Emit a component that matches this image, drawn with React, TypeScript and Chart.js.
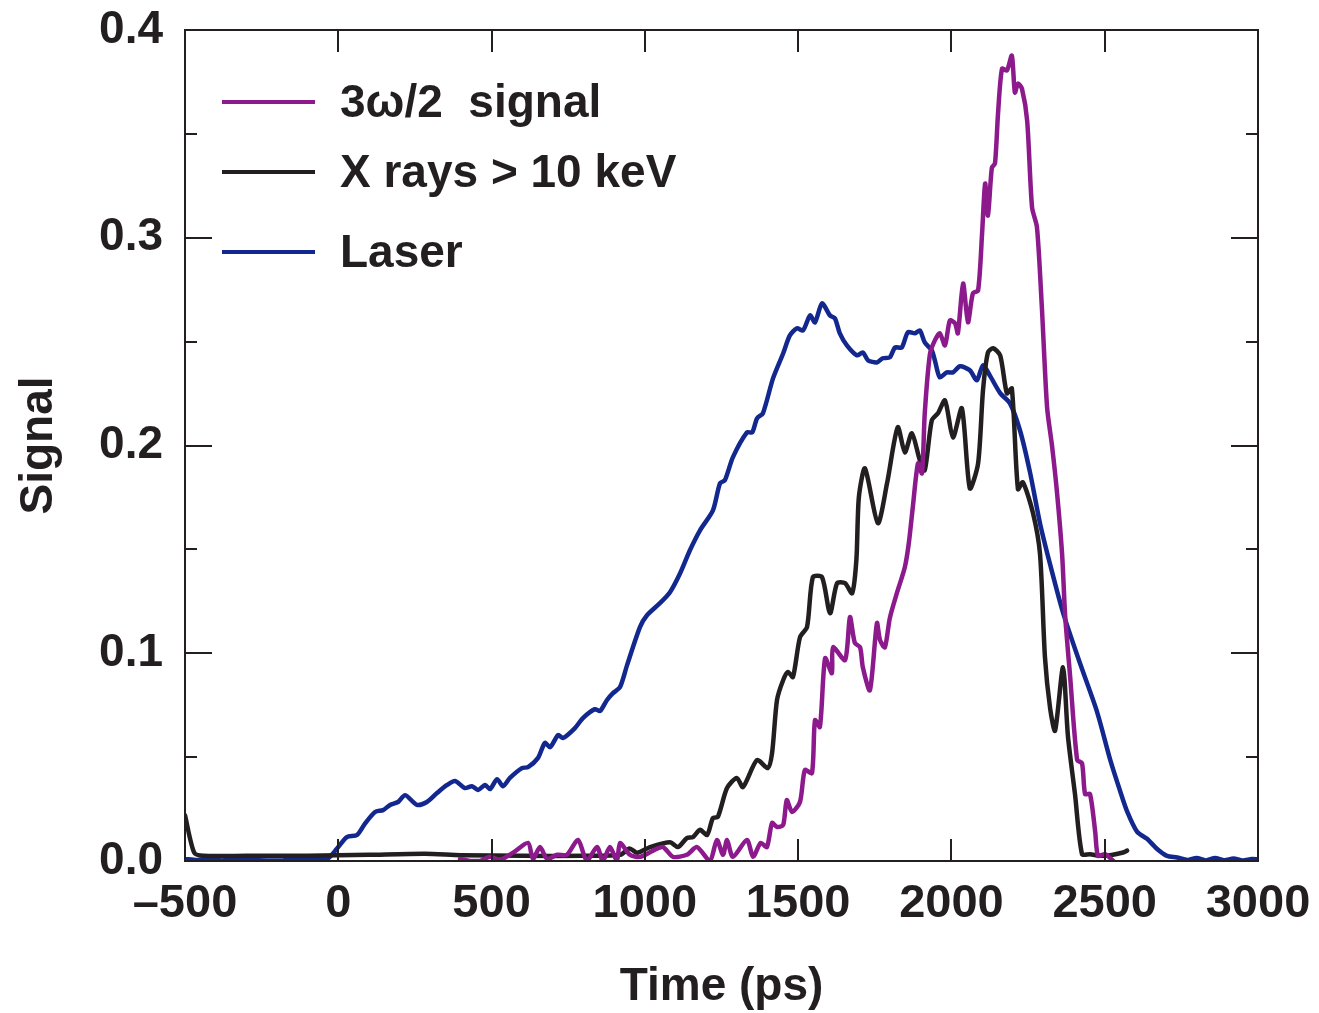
import React, { useEffect, useRef } from 'react';
import { Chart, registerables } from 'chart.js';

Chart.register(...registerables);

// ---- Data (time in ps, signal in arbitrary units) ----
const omegaTime = [397, 430, 462, 495, 527, 570, 619, 635, 658, 681, 714, 746, 782, 811, 844, 863, 886, 909, 919, 951, 984, 1027, 1059, 1092, 1137, 1170, 1212, 1235, 1255, 1268, 1287, 1333, 1353, 1378, 1398, 1415, 1431, 1451, 1463, 1480, 1506, 1522, 1545, 1555, 1571, 1588, 1610, 1614, 1653, 1669, 1685, 1702, 1711, 1734, 1757, 1767, 1783, 1799, 1822, 1848, 1861, 1874, 1891, 1904, 1913, 1930, 1946, 1962, 1979, 1995, 2012, 2021, 2038, 2054, 2070, 2087, 2100, 2110, 2119, 2132, 2142, 2152, 2165, 2181, 2197, 2207, 2217, 2230, 2247, 2263, 2279, 2295, 2312, 2328, 2344, 2361, 2371, 2387, 2410, 2426, 2436, 2452, 2469, 2478, 2501, 2528];
const omegaSignal = [0.001, 0.0, 0.0, 0.002, 0.0005, 0.004, 0.0087, 0.001, 0.0067, 0.001, 0.003, 0.003, 0.0101, 0.0, 0.0067, 0.0, 0.0067, 0.0, 0.0087, 0.003, 0.002, 0.005, 0.0067, 0.002, 0.003, 0.0067, 0.0, 0.0101, 0.003, 0.0101, 0.002, 0.0101, 0.002, 0.0087, 0.0067, 0.0183, 0.0164, 0.0173, 0.0293, 0.0236, 0.0284, 0.0438, 0.0423, 0.0678, 0.0645, 0.0976, 0.0904, 0.1029, 0.0967, 0.1174, 0.1049, 0.1029, 0.0933, 0.0822, 0.1145, 0.1063, 0.1029, 0.1169, 0.1289, 0.1414, 0.153, 0.1703, 0.1914, 0.1866, 0.2155, 0.2441, 0.2506, 0.254, 0.2482, 0.2602, 0.2588, 0.254, 0.278, 0.2593, 0.2732, 0.2747, 0.3021, 0.3261, 0.3107, 0.3338, 0.3357, 0.3598, 0.3814, 0.3805, 0.3877, 0.3699, 0.3742, 0.3718, 0.3564, 0.3146, 0.305, 0.2665, 0.2184, 0.2, 0.178, 0.1477, 0.118, 0.0891, 0.0487, 0.047, 0.0322, 0.0322, 0.014, 0.0025, 0.0033, 0.0];

const xrayTime = [-500, -470, -440, -300, -100, 100, 283, 400, 600, 800, 920, 950, 975, 1017, 1082, 1108, 1137, 1157, 1180, 1203, 1222, 1238, 1268, 1300, 1320, 1366, 1401, 1415, 1431, 1451, 1467, 1483, 1506, 1529, 1548, 1578, 1604, 1627, 1653, 1676, 1690, 1698, 1718, 1760, 1790, 1825, 1848, 1871, 1897, 1913, 1936, 1956, 1979, 2005, 2034, 2060, 2087, 2103, 2119, 2136, 2159, 2181, 2197, 2217, 2233, 2266, 2289, 2305, 2322, 2338, 2364, 2380, 2403, 2426, 2452, 2485, 2518, 2560, 2573];
const xraySignal = [0.022, 0.004, 0.0025, 0.0025, 0.0025, 0.003, 0.0035, 0.0028, 0.0025, 0.0025, 0.003, 0.006, 0.004, 0.0067, 0.009, 0.0067, 0.011, 0.0115, 0.015, 0.0125, 0.0207, 0.0212, 0.0351, 0.04, 0.0356, 0.0486, 0.0447, 0.052, 0.0774, 0.087, 0.091, 0.0885, 0.1077, 0.1126, 0.1366, 0.1366, 0.1193, 0.1337, 0.1337, 0.1289, 0.145, 0.175, 0.189, 0.1626, 0.1818, 0.2088, 0.1967, 0.2059, 0.1929, 0.1881, 0.2121, 0.2155, 0.2217, 0.2039, 0.2179, 0.1794, 0.1914, 0.2266, 0.2448, 0.2468, 0.2434, 0.2251, 0.2275, 0.179, 0.1823, 0.1675, 0.1477, 0.0982, 0.0734, 0.0627, 0.0932, 0.0602, 0.0322, 0.0033, 0.0033, 0.0025, 0.0028, 0.0041, 0.005];

const laserTime = [-500, -460, -420, -380, -340, -300, -260, -220, -180, -140, -100, -60, -37, -4, 28, 61, 87, 120, 146, 169, 195, 218, 257, 289, 322, 355, 381, 413, 436, 456, 479, 495, 518, 537, 560, 599, 619, 651, 674, 691, 717, 733, 772, 798, 837, 854, 876, 896, 919, 942, 984, 1007, 1049, 1082, 1115, 1147, 1180, 1222, 1245, 1261, 1287, 1333, 1350, 1366, 1385, 1418, 1451, 1473, 1496, 1516, 1539, 1555, 1578, 1604, 1620, 1636, 1659, 1692, 1711, 1728, 1757, 1776, 1799, 1816, 1838, 1858, 1881, 1897, 1913, 1936, 1946, 1962, 1985, 2005, 2028, 2060, 2083, 2103, 2126, 2159, 2191, 2224, 2256, 2289, 2322, 2364, 2420, 2475, 2518, 2550, 2573, 2606, 2638, 2671, 2703, 2736, 2770, 2800, 2830, 2860, 2890, 2920, 2950, 2980, 3000];
const laserSignal = [0.001, 0.0005, 0.0012, 0.0003, 0.001, 0.0008, 0.0004, 0.0003, 0.0003, 0.0012, 0.0004, 0.0015, 0.0008, 0.006, 0.0115, 0.0125, 0.018, 0.0236, 0.0245, 0.027, 0.0284, 0.0317, 0.027, 0.0284, 0.0327, 0.0366, 0.0385, 0.0351, 0.036, 0.0342, 0.0366, 0.0346, 0.0394, 0.036, 0.04, 0.0447, 0.0452, 0.0495, 0.0568, 0.0548, 0.0606, 0.0592, 0.064, 0.0688, 0.0731, 0.0722, 0.0774, 0.0808, 0.0837, 0.0943, 0.1126, 0.1183, 0.1241, 0.1294, 0.1385, 0.1496, 0.1592, 0.1688, 0.1818, 0.1833, 0.1943, 0.2063, 0.2063, 0.2131, 0.2155, 0.2323, 0.2443, 0.253, 0.2564, 0.2554, 0.2626, 0.2593, 0.2684, 0.2626, 0.2612, 0.254, 0.2482, 0.2434, 0.2448, 0.241, 0.24, 0.242, 0.2424, 0.2472, 0.2472, 0.2545, 0.254, 0.2554, 0.2496, 0.2458, 0.241, 0.2328, 0.2352, 0.2352, 0.2381, 0.2362, 0.2314, 0.2386, 0.2335, 0.2252, 0.2203, 0.2071, 0.1873, 0.1625, 0.1427, 0.1196, 0.0949, 0.0718, 0.0487, 0.0338, 0.0239, 0.014, 0.0107, 0.0058, 0.0025, 0.0017, 0.0005, 0.0015, 0.0003, 0.0015, 0.0004, 0.0012, 0.0003, 0.001, 0.0008];

const xMajorTicks = [-500, 0, 500, 1000, 1500, 2000, 2500, 3000];
const yMajorTicks = [0, 0.1, 0.2, 0.3, 0.4];
const yMinorTicks = [0.05, 0.15, 0.25, 0.35];
const seriesLabels = ['3\u03c9/2  signal', 'X rays > 10 keV', 'Laser'];
const seriesColors = ['#8c1a8c', '#231f20', '#13288f'];

const FONT = '"Liberation Sans", Arial, Helvetica, sans-serif';
const INK = '#231f20';

const toPoints = (t: number[], v: number[]) => t.map((x, i) => ({ x, y: v[i] }));

const framePlugin = {
  id: 'frameAndLegend',
  afterDatasetsDraw(chart: any) {
    const { ctx, chartArea, scales } = chart;
    const { left, right, top, bottom } = chartArea;
    const xs = scales.x;
    const ys = scales.y;
    ctx.save();
    ctx.strokeStyle = INK;
    ctx.lineWidth = 2;
    ctx.lineCap = 'butt';
    ctx.strokeRect(left, top, right - left, bottom - top);
    ctx.beginPath();
    xMajorTicks.forEach((v) => {
      const px = Math.round(xs.getPixelForValue(v));
      ctx.moveTo(px, bottom);
      ctx.lineTo(px, bottom - 22);
      ctx.moveTo(px, top);
      ctx.lineTo(px, top + 22);
    });
    yMajorTicks.forEach((v) => {
      const py = Math.round(ys.getPixelForValue(v));
      ctx.moveTo(left, py);
      ctx.lineTo(left + 27, py);
      ctx.moveTo(right, py);
      ctx.lineTo(right - 27, py);
    });
    yMinorTicks.forEach((v) => {
      const py = Math.round(ys.getPixelForValue(v));
      ctx.moveTo(left, py);
      ctx.lineTo(left + 12, py);
      ctx.moveTo(right, py);
      ctx.lineTo(right - 12, py);
    });
    ctx.stroke();

    // legend
    const lineY = [102, 172, 252];
    ctx.font = `bold 46px ${FONT}`;
    ctx.textBaseline = 'middle';
    ctx.textAlign = 'left';
    chart.data.datasets.forEach((ds: any, i: number) => {
      const y = lineY[i];
      ctx.strokeStyle = ds.borderColor;
      ctx.lineWidth = 4;
      ctx.beginPath();
      ctx.moveTo(222, y);
      ctx.lineTo(315, y);
      ctx.stroke();
      ctx.fillStyle = INK;
      ctx.fillText(ds.label, 340, y + 2);
    });
    ctx.restore();
  },
};

export default function App() {
  const canvasRef = useRef<HTMLCanvasElement | null>(null);

  useEffect(() => {
    if (!canvasRef.current) return;
    const lineStyle = { borderWidth: 4.5, pointRadius: 0, tension: 0.25, borderJoinStyle: 'round', borderCapStyle: 'round' };
    const chart = new Chart(canvasRef.current, {
      type: 'line',
      data: {
        datasets: [
          { label: seriesLabels[0], data: toPoints(omegaTime, omegaSignal), borderColor: seriesColors[0], ...lineStyle },
          { label: seriesLabels[1], data: toPoints(xrayTime, xraySignal), borderColor: seriesColors[1], ...lineStyle },
          { label: seriesLabels[2], data: toPoints(laserTime, laserSignal), borderColor: seriesColors[2], ...lineStyle },
        ],
      },
      options: {
        animation: false,
        responsive: false,
        maintainAspectRatio: false,
        events: [],
        layout: { padding: { top: 30, right: 61, left: 0, bottom: 0 } },
        plugins: {
          legend: { display: false },
          tooltip: { enabled: false },
        },
        scales: {
          x: {
            type: 'linear',
            min: -500,
            max: 3000,
            afterFit: (scale: any) => {
              scale.height = 152;
              scale.paddingLeft = 0;
              scale.paddingRight = 0;
            },
            afterBuildTicks: (scale: any) => {
              scale.ticks = xMajorTicks.map((value) => ({ value }));
            },
            grid: { display: false, drawTicks: false },
            border: { display: false },
            ticks: {
              padding: 15,
              color: INK,
              font: { family: FONT, size: 47, weight: 'bold' },
              maxRotation: 0,
              autoSkip: false,
              callback: (v: any) => (Number(v) < 0 ? '\u2013' + Math.abs(Number(v)) : String(v)),
            },
            title: {
              display: true,
              text: 'Time (ps)',
              color: INK,
              font: { family: FONT, size: 46, weight: 'bold', lineHeight: 1 },
              padding: { top: 0, bottom: 3 },
            },
          },
          y: {
            type: 'linear',
            min: 0,
            max: 0.4,
            afterFit: (scale: any) => {
              scale.width = 185;
              scale.paddingTop = 0;
              scale.paddingBottom = 0;
            },
            afterBuildTicks: (scale: any) => {
              scale.ticks = yMajorTicks.map((value) => ({ value }));
            },
            grid: { display: false, drawTicks: false },
            border: { display: false },
            ticks: {
              padding: 22,
              color: INK,
              font: { family: FONT, size: 46, weight: 'bold' },
              autoSkip: false,
              callback: (v: any) => Number(v).toFixed(1),
            },
            title: {
              display: true,
              text: 'Signal',
              color: INK,
              font: { family: FONT, size: 46, weight: 'bold' },
              padding: { top: 12, bottom: 0 },
            },
          },
        },
      },
      plugins: [framePlugin],
    } as any);
    return () => chart.destroy();
  }, []);

  return (
    <div style={{ position: 'fixed', left: 0, top: 0, width: 1319, height: 1013, background: '#fff' }}>
      <canvas ref={canvasRef} width={1319} height={1013} style={{ width: 1319, height: 1013, display: 'block' }} />
    </div>
  );
}
